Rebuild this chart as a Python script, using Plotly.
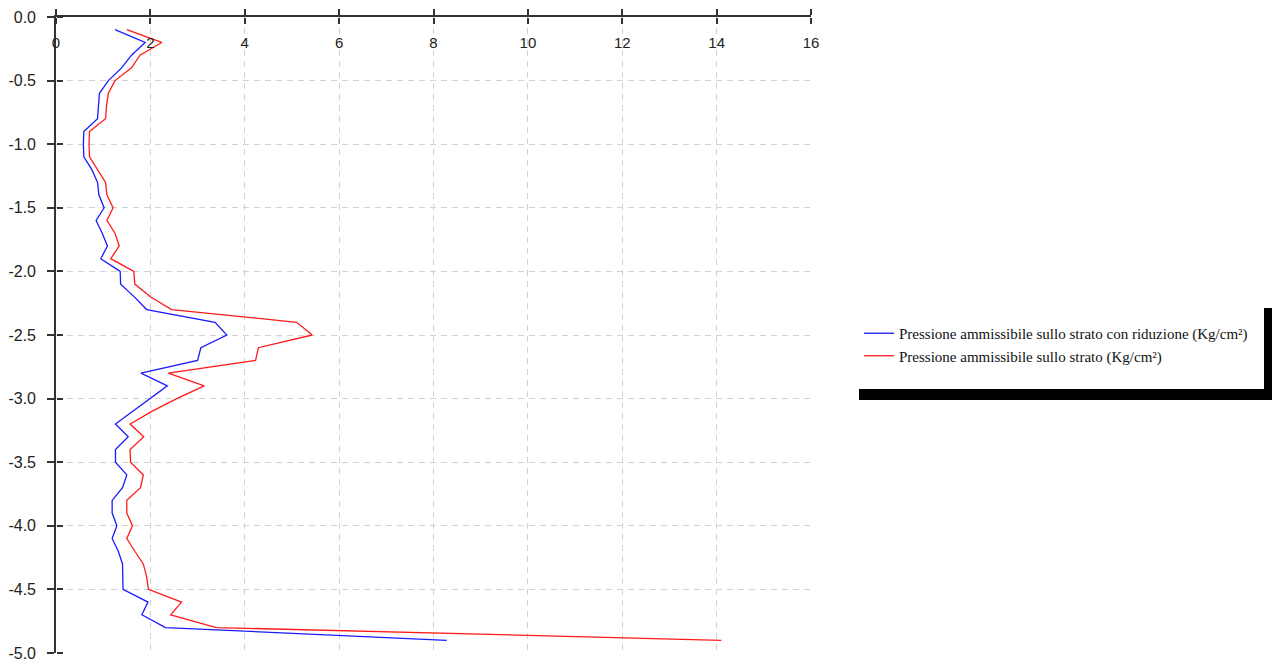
import plotly.graph_objects as go

depth = [-0.1, -0.2, -0.3, -0.4, -0.5, -0.6, -0.7, -0.8, -0.9, -1.0,
         -1.1, -1.2, -1.3, -1.4, -1.5, -1.6, -1.7, -1.8, -1.9, -2.0,
         -2.1, -2.2, -2.3, -2.4, -2.5, -2.6, -2.7, -2.8, -2.9, -3.0,
         -3.1, -3.2, -3.3, -3.4, -3.5, -3.6, -3.7, -3.8, -3.9, -4.0,
         -4.1, -4.2, -4.3, -4.4, -4.5, -4.6, -4.7, -4.8, -4.9]

p_rid = [1.25, 1.89, 1.60, 1.39, 1.11, 0.92, 0.90, 0.88, 0.59, 0.58,
         0.59, 0.76, 0.88, 0.91, 1.02, 0.85, 0.98, 1.09, 0.95, 1.36,
         1.37, 1.66, 1.92, 3.37, 3.62, 3.07, 3.00, 1.80, 2.36, 1.99,
         1.64, 1.26, 1.53, 1.26, 1.26, 1.50, 1.41, 1.19, 1.19, 1.29,
         1.19, 1.32, 1.41, 1.41, 1.42, 1.95, 1.82, 2.32, 8.28]

p_str = [1.50, 2.24, 1.78, 1.60, 1.25, 1.11, 1.07, 1.05, 0.71, 0.70,
         0.71, 0.88, 1.05, 1.08, 1.21, 1.08, 1.25, 1.34, 1.16, 1.65,
         1.67, 2.00, 2.45, 5.10, 5.43, 4.29, 4.23, 2.38, 3.14, 2.56,
         2.03, 1.57, 1.86, 1.57, 1.58, 1.85, 1.79, 1.50, 1.50, 1.62,
         1.50, 1.67, 1.85, 1.92, 1.96, 2.66, 2.43, 3.40, 14.10]

name_rid = "Pressione ammissibile sullo strato con riduzione (Kg/cm²)"
name_str = "Pressione ammissibile sullo strato (Kg/cm²)"

x_ticks = [0, 2, 4, 6, 8, 10, 12, 14, 16]
y_ticks = [0.0, -0.5, -1.0, -1.5, -2.0, -2.5, -3.0, -3.5, -4.0, -4.5, -5.0]

fig = go.Figure()
fig.add_trace(go.Scatter(x=p_rid, y=depth, mode="lines", name=name_rid,
                         line=dict(color="#1a1aff", width=1.3)))
fig.add_trace(go.Scatter(x=p_str, y=depth, mode="lines", name=name_str,
                         xaxis="x2", yaxis="y2",
                         line=dict(color="#ff1a1a", width=1.3)))

W, H = 1274, 659
# plot area in window coordinates
SX0, SX1, SY0, SY1 = 56, 811, 17, 653
L, T = SX0, SY0
R, B = W - SX1, H - SY1
pw, ph = SX1 - SX0, SY1 - SY0


def px(x):
    return (x - SX0) / pw


def py(y):
    return (SY1 - y) / ph


axcol = "#333333"
gridcol = "#d2d2d2"
xfont = dict(family="Liberation Sans, Arial, sans-serif", size=15, color="#222")
yfont = dict(family="Liberation Sans, Arial, sans-serif", size=16, color="#222")

fig.update_layout(
    width=W, height=H,
    margin=dict(l=L, r=R, t=T, b=B, pad=0, autoexpand=False),
    paper_bgcolor="white", plot_bgcolor="white",
    showlegend=True,
    legend=dict(x=px(859), y=py(317), xanchor="left", yanchor="top",
                font=dict(family="Liberation Serif, Times New Roman, serif", size=15, color="#111"),
                bgcolor="rgba(0,0,0,0)", itemwidth=30, tracegroupgap=0),
    xaxis=dict(range=[0, 16], side="top", tickvals=x_ticks, showticklabels=False,
               showline=True, linecolor=axcol, linewidth=1.6,
               ticks="outside", ticklen=6, tickcolor=axcol, tickwidth=1.6,
               showgrid=True, gridcolor=gridcol, griddash="6px,5px", gridwidth=1,
               zeroline=False, fixedrange=True),
    xaxis2=dict(range=[0, 16], overlaying="x", anchor="free", position=1, side="bottom",
                tickvals=x_ticks, ticktext=[str(v) for v in x_ticks],
                showline=False, showgrid=False, zeroline=False,
                ticks="outside", ticklen=6, tickcolor=axcol, tickwidth=1.6,
                ticklabelstandoff=6, ticklabeloverflow="allow",
                tickfont=xfont, fixedrange=True),
    yaxis=dict(range=[-5, 0], tickvals=y_ticks, ticktext=["%.1f" % v for v in y_ticks],
               showline=True, linecolor=axcol, linewidth=1.6,
               ticks="outside", ticklen=7, tickcolor=axcol, tickwidth=1.6,
               ticklabelstandoff=8, ticklabeloverflow="allow",
               showgrid=True, gridcolor=gridcol, griddash="6px,5px", gridwidth=1,
               zeroline=False, tickfont=yfont, fixedrange=True),
    yaxis2=dict(range=[-5, 0], overlaying="y", anchor="free", position=0, side="right",
                tickvals=y_ticks, showticklabels=False,
                showline=False, showgrid=False, zeroline=False,
                ticks="outside", ticklen=6, tickcolor=axcol, tickwidth=1.6, fixedrange=True),
    shapes=[
        dict(type="rect", xref="paper", yref="paper", x0=px(859), x1=px(1272),
             y0=py(400), y1=py(389), fillcolor="black", line=dict(width=0), layer="above"),
        dict(type="rect", xref="paper", yref="paper", x0=px(1264), x1=px(1272),
             y0=py(400), y1=py(308), fillcolor="black", line=dict(width=0), layer="above"),
    ],
)

# remove the default page margin so the figure fills the window exactly
fig.write_html(
    "out.html",
    config={"displayModeBar": False},
    post_script="document.body.style.margin='0';document.body.style.overflow='hidden';"
                "document.documentElement.style.overflow='hidden';",
)
